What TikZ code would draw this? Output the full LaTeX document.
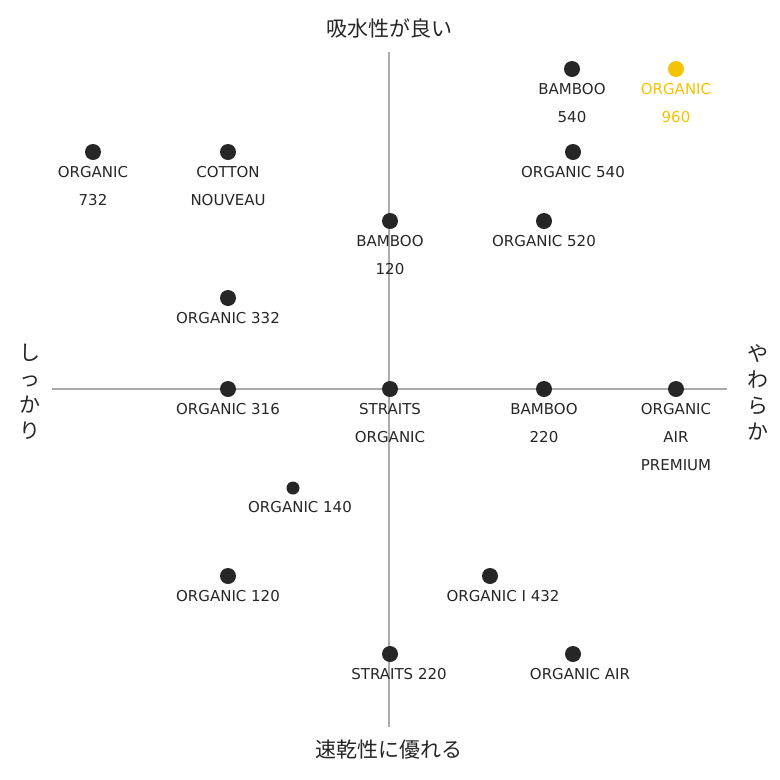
\documentclass[tikz,border=0pt]{standalone}
\usepackage{fontspec}
\setmainfont{DejaVu Sans}
\newfontfamily\jpfont{Noto Sans CJK JP}
\usetikzlibrary{positioning}
\definecolor{dotgray}{HTML}{262626}
\definecolor{axisgray}{HTML}{ABABAB}
\definecolor{pickyellow}{HTML}{F5C400}
\tikzset{
	every node/.style={
		font=\fontsize{15}{28}\selectfont,
		text=dotgray
	},
	pt/.style={
		shape=circle,
		fill=dotgray,
		minimum size=16pt,
		inner sep=0pt
	},
	ptsmall/.style={
		pt,
		minimum size=13pt
	},
	lbl/.style={
		align=center,
		label distance=3pt
	},
	axis/.style={
		draw=axisgray,
		line width=2pt
	},
	jp/.style={
		font=\jpfont\fontsize{21}{26}\selectfont
	}
}
\begin{document}
\begin{tikzpicture}[x=1pt,y=-1pt]
	\useasboundingbox (0,0) rectangle (780,780);
	
	% axes
	\coordinate (left) at (52,389);
	\coordinate (right) at (727,389);
	\coordinate (top) at (389,52);
	\coordinate (bottom) at (389,727);
	\draw[axis] (left) -- (right);
	\draw[axis] (top) -- (bottom);
	
	\node[jp] (wet) at (389,28) {吸水性が良い};
	\node[jp] (dry) at (389,750) {速乾性に優れる};
	\node[jp,align=center] (firm) at (30,392) {し\\っ\\か\\り};
	\node[jp,align=center] (soft) at (758,392) {や\\わ\\ら\\か};
	
	% products
	\node[pt,label={[lbl]below:BAMBOO\\540}] (b540) at (572,69) {};
	\node[pt,fill=pickyellow,label={[lbl,text=pickyellow]below:ORGANIC\\960}] (o960) at (676,69) {};
	\node[pt,label={[lbl]below:ORGANIC\\732}] (o732) at (93,152) {};
	\node[pt,label={[lbl]below:COTTON\\NOUVEAU}] (cn) at (228,152) {};
	\node[pt,label={[lbl]below:ORGANIC 540}] (o540) at (573,152) {};
	\node[pt,label={[lbl]below:BAMBOO\\120}] (b120) at (390,221) {};
	\node[pt,label={[lbl]below:ORGANIC 520}] (o520) at (544,221) {};
	\node[pt,label={[lbl]below:ORGANIC 332}] (o332) at (228,298) {};
	\node[pt,label={[lbl]below:ORGANIC 316}] (o316) at (228,389) {};
	\node[pt,label={[lbl]below:STRAITS\\ORGANIC}] (so) at (390,389) {};
	\node[pt,label={[lbl]below:BAMBOO\\220}] (b220) at (544,389) {};
	\node[pt,label={[lbl]below:ORGANIC\\AIR\\PREMIUM}] (oap) at (676,389) {};
	\node[ptsmall,label={[lbl,xshift=7pt]below:ORGANIC 140}] (o140) at (293,488) {};
	\node[pt,label={[lbl]below:ORGANIC 120}] (o120) at (228,576) {};
	\node[pt,label={[lbl,xshift=13pt]below:ORGANIC I 432}] (o432) at (490,576) {};
	\node[pt,label={[lbl,xshift=9pt]below:STRAITS 220}] (s220) at (390,654) {};
	\node[pt,label={[lbl,xshift=7pt]below:ORGANIC AIR}] (oa) at (573,654) {};
\end{tikzpicture}
\end{document}
